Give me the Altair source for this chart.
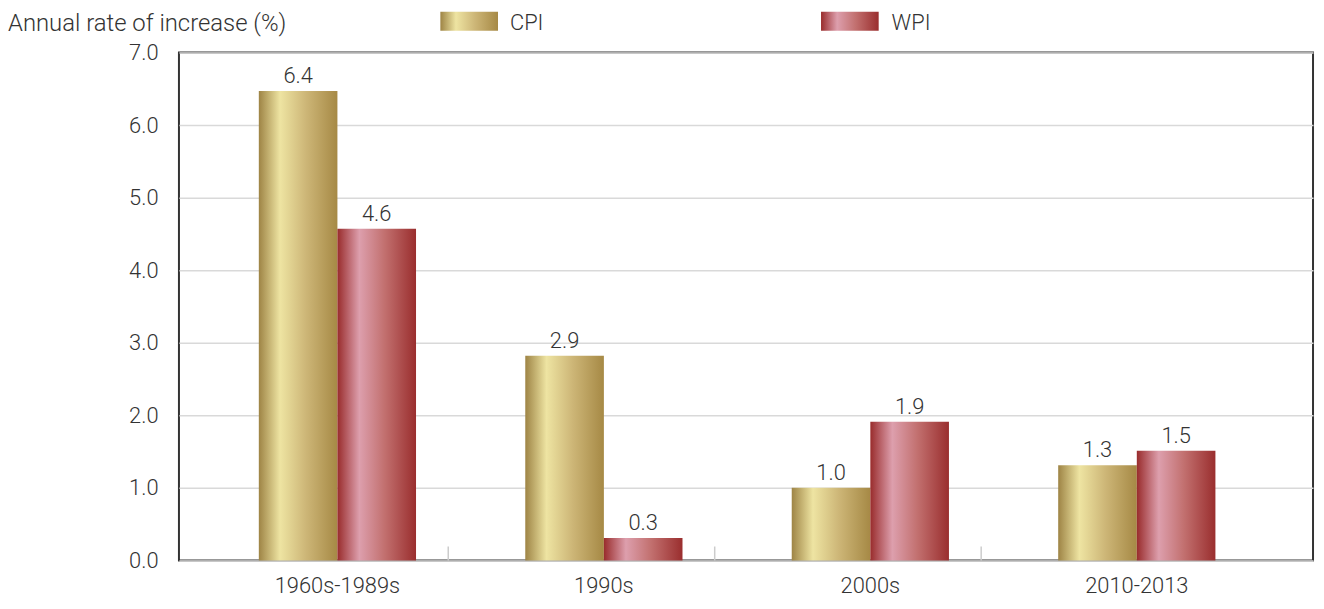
import altair as alt
import pandas as pd

periods = ["1960s-1989s", "1990s", "2000s", "2010-2013"]
series_names = ["CPI", "WPI"]
cpi_values = [6.47, 2.82, 1.0, 1.31]
wpi_values = [4.57, 0.31, 1.91, 1.51]
cpi_labels = ["6.4", "2.9", "1.0", "1.3"]
wpi_labels = ["4.6", "0.3", "1.9", "1.5"]
y_ticks = [0, 1, 2, 3, 4, 5, 6, 7]

rows = []
for p, v, l in zip(periods, cpi_values, cpi_labels):
    rows.append({"period": p, "series": "CPI", "value": v, "label": l})
for p, v, l in zip(periods, wpi_values, wpi_labels):
    rows.append({"period": p, "series": "WPI", "value": v, "label": l})
df = pd.DataFrame(rows)
sep_df = pd.DataFrame({"period": periods[1:]})

FONT = "Roboto"
TXT = "#333333"
FS = 22
W, H = 1141, 511

cpi_grad = alt.LinearGradient(
    gradient="linear", x1=0, x2=1, y1=0, y2=0,
    stops=[
        alt.GradientStop(offset=0.0, color="#9e8445"),
        alt.GradientStop(offset=0.27, color="#eee4a2"),
        alt.GradientStop(offset=0.6, color="#cdb677"),
        alt.GradientStop(offset=1.0, color="#a68945"),
    ],
)
wpi_grad = alt.LinearGradient(
    gradient="linear", x1=0, x2=1, y1=0, y2=0,
    stops=[
        alt.GradientStop(offset=0.0, color="#992c2c"),
        alt.GradientStop(offset=0.28, color="#dd9fad"),
        alt.GradientStop(offset=0.6, color="#c2706f"),
        alt.GradientStop(offset=1.0, color="#9a2e2e"),
    ],
)

x_enc = alt.X(
    "period:N", sort=periods,
    scale=alt.Scale(paddingInner=0.41, paddingOuter=0.333, align=0.45),
    axis=alt.Axis(title=None, labelAngle=0, ticks=False, domain=False,
                  labelFontSize=FS, labelPadding=15, labelColor=TXT,
                  labelFont=FONT, labelFontWeight=300, grid=False),
)
xoff = alt.XOffset("series:N", sort=series_names,
                   scale=alt.Scale(domain=series_names, paddingInner=0, paddingOuter=0))
y_enc = alt.Y(
    "value:Q", scale=alt.Scale(domain=[0, 7], nice=False),
    axis=alt.Axis(title=None, values=y_ticks, format=".1f", ticks=False, domain=False,
                  labelFontSize=FS, labelPadding=21, labelColor=TXT, labelFont=FONT,
                  labelFontWeight=300, gridColor="#d9d9d9", gridWidth=1.5),
)

base = alt.Chart(df)

cpi_bars = base.transform_filter(alt.datum.series == "CPI").mark_bar(
    color=cpi_grad).encode(x=x_enc, xOffset=xoff, y=y_enc)
wpi_bars = base.transform_filter(alt.datum.series == "WPI").mark_bar(
    color=wpi_grad).encode(x=x_enc, xOffset=xoff, y=y_enc)

labels = base.mark_text(dy=-15, fontSize=FS, font=FONT, fontWeight=300,
                        color=TXT, baseline="middle").encode(
    x=x_enc, xOffset=xoff, y="value:Q", text="label:N")

seps = alt.Chart(sep_df).mark_rule(color="#cccccc", strokeWidth=1.5, xOffset=-77.5).encode(
    x=alt.X("period:N", sort=periods, bandPosition=0),
    y=alt.value(H - 14), y2=alt.value(H))

one = alt.Data(values=[{"k": 1}])
title_txt = alt.Chart(one).mark_text(align="left", baseline="middle", fontSize=24,
                                     font=FONT, fontWeight=300, color=TXT).encode(
    x=alt.value(-172), y=alt.value(-29), text=alt.value("Annual rate of increase (%)"))

leg_cpi = alt.Chart(one).mark_rect(color=cpi_grad).encode(
    x=alt.value(263), x2=alt.value(321), y=alt.value(-41), y2=alt.value(-22))
leg_wpi = alt.Chart(one).mark_rect(color=wpi_grad).encode(
    x=alt.value(646), x2=alt.value(704), y=alt.value(-41), y2=alt.value(-22))
leg_cpi_t = alt.Chart(one).mark_text(align="left", baseline="middle", fontSize=FS,
                                     font=FONT, fontWeight=300, color=TXT).encode(
    x=alt.value(333), y=alt.value(-30), text=alt.value("CPI"))
leg_wpi_t = alt.Chart(one).mark_text(align="left", baseline="middle", fontSize=FS,
                                     font=FONT, fontWeight=300, color=TXT).encode(
    x=alt.value(717), y=alt.value(-30), text=alt.value("WPI"))

chart = alt.layer(
    cpi_bars, wpi_bars, labels, seps, title_txt, leg_cpi, leg_wpi, leg_cpi_t, leg_wpi_t
).properties(
    width=W, height=H,
    padding={"left": 172, "top": 43, "right": 3, "bottom": 35},
    autosize=alt.AutoSizeParams(type="none"),
).configure_view(
    stroke="#333333", strokeWidth=2
)

chart.save("out.html", embed_options={"renderer": "svg", "actions": False})
